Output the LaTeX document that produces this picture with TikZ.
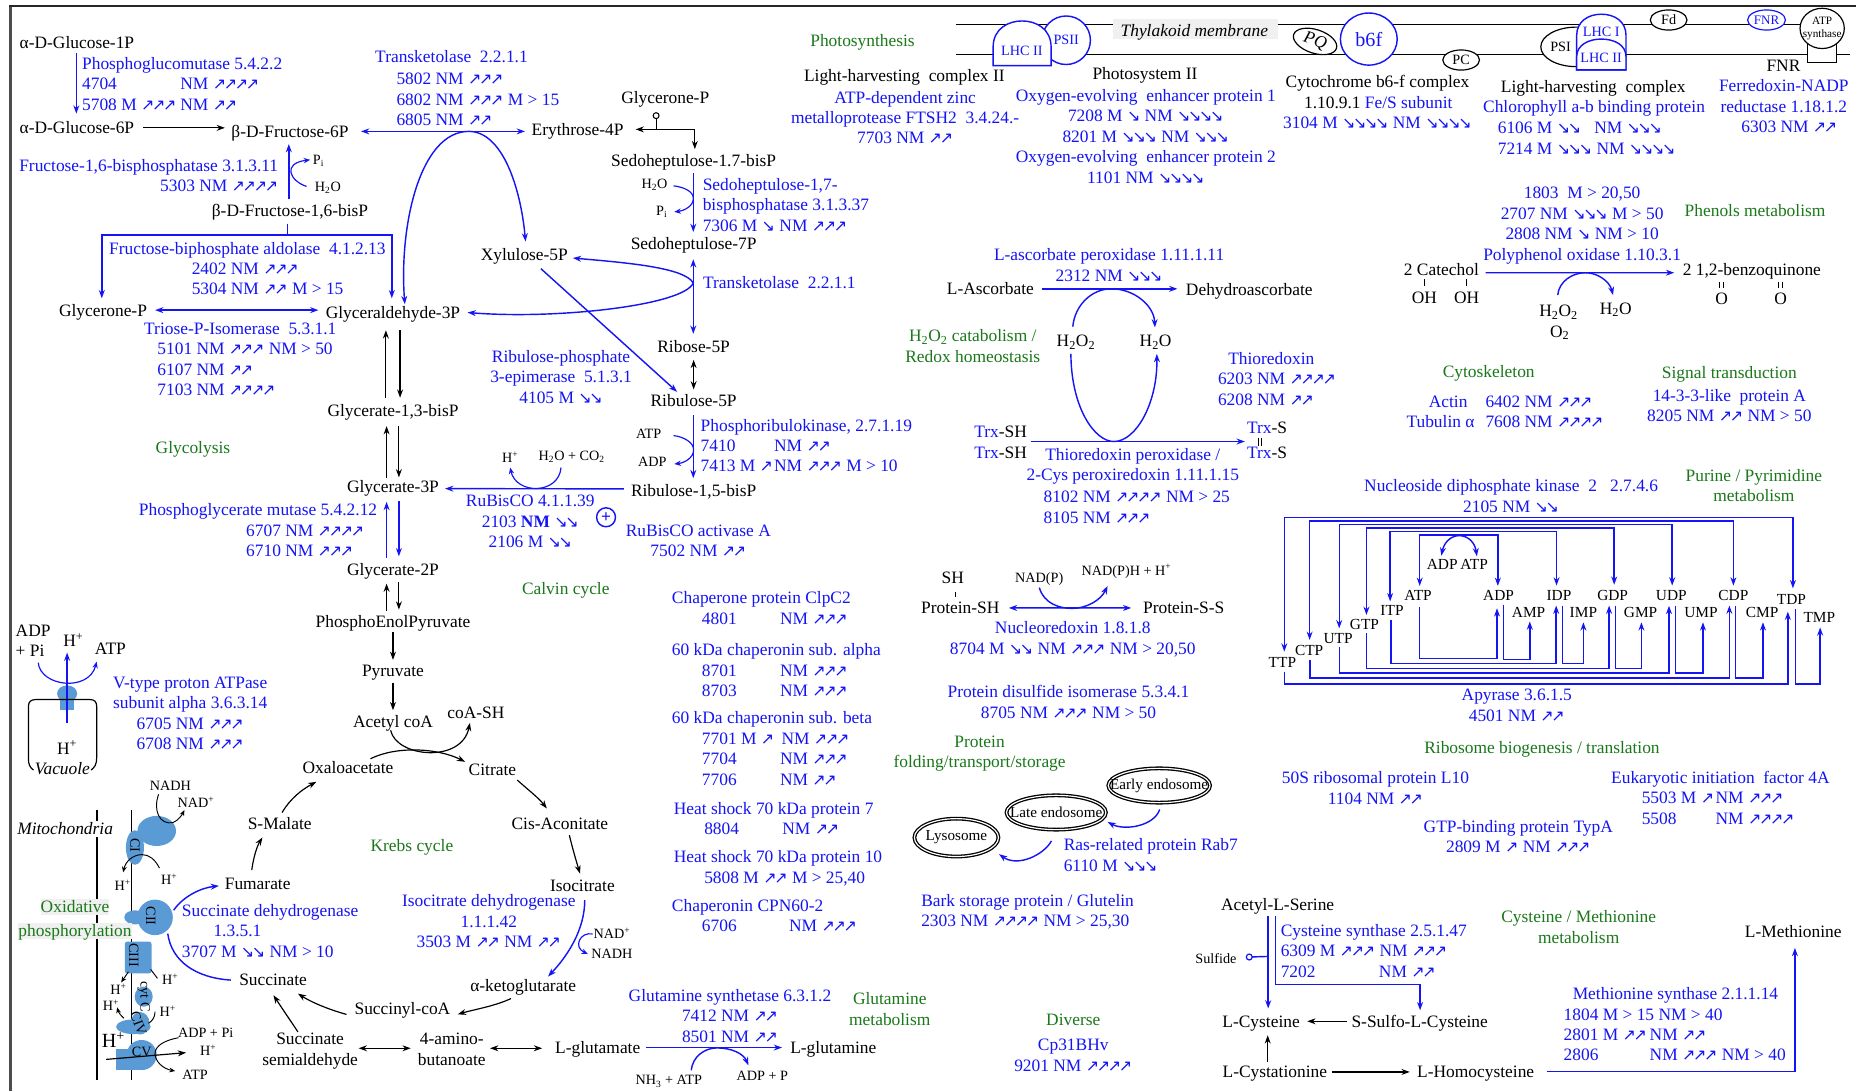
\documentclass[tikz,border=0pt]{standalone}
\usepackage{fontspec}
\setmainfont{Liberation Serif}
\newfontfamily\arrf{DejaVu Sans}
\usetikzlibrary{arrows.meta,calc,shapes.geometric}
\definecolor{bT}{RGB}{20,20,245}
\definecolor{gT}{RGB}{26,120,26}
\definecolor{cB}{RGB}{91,155,213}
\newcommand\mfz{\fontsize{14.7pt}{17.3pt}\selectfont}
\newcommand\smz{\fontsize{12pt}{14pt}\selectfont}
\newcommand\upA{{\arrf\fontsize{13.5pt}{13.5pt}\selectfont\char"2197}}
\newcommand\upB{\upA\kern-2pt\upA}
\newcommand\upC{\upB\kern-2pt\upA}
\newcommand\upD{\upC\kern-2pt\upA}
\newcommand\dnA{{\arrf\fontsize{13.5pt}{13.5pt}\selectfont\char"2198}}
\newcommand\dnB{\dnA\kern-2pt\dnA}
\newcommand\dnC{\dnB\kern-2pt\dnA}
\newcommand\dnD{\dnC\kern-2pt\dnA}
\newcommand\Hp{H\textsuperscript{+}}
\newcommand\Hwo{H\textsubscript{2}O}
\newcommand\Trx{\textcolor{bT}{Trx}}
\tikzset{
 every node/.style={inner sep=0pt,outer sep=0pt,font=\mfz},
 one/.style={text height=11.5pt,text depth=2pt},
 kn/.style={one,text=black},
 bn/.style={one,text=bT},
 gn/.style={one,text=gT},
 sn/.style={text height=10.5pt,text depth=2.5pt,text=black,font=\smz},
 bm/.style={text=bT,align=center},
 gm/.style={text=gT,align=center},
 km/.style={text=black,align=center},
 bw/.style={text=bT,align=left,anchor=west},
 ka/.style={draw=black,line width=1pt,-{Stealth[length=7pt,width=5pt]}},
 ba/.style={draw=bT,line width=1.2pt,-{Stealth[length=7pt,width=5pt]}},
 kd/.style={draw=black,line width=1pt,{Stealth[length=7pt,width=5pt]}-{Stealth[length=7pt,width=5pt]}},
 bd/.style={draw=bT,line width=1.2pt,{Stealth[length=7pt,width=5pt]}-{Stealth[length=7pt,width=5pt]}},
 kl/.style={draw=black,line width=1pt},
 bl/.style={draw=bT,line width=1.2pt},
 ksm/.style={draw=black,line width=.8pt,-{Stealth[length=5pt,width=4pt]}},
 bsm/.style={draw=bT,line width=1pt,-{Stealth[length=5.5pt,width=4.5pt]}},
 endo/.style={shape=ellipse,draw=black,double,double distance=1pt,line width=1.1pt},
 endt/.style={text=black,font=\fontsize{12.8pt}{14pt}\selectfont},
 blob/.style={text=black,font=\smz},
}
\begin{document}
\begin{tikzpicture}[x=1pt,y=-1pt]
\useasboundingbox (0,0) rectangle (1568,921.7);
\fill[white] (0,0) rectangle (1568,921.7);
\fill[black!70] (7.3,4) rectangle (10,921.7);
\fill[black!85] (7.3,4) rectangle (1568,5.8);

% ---------- glycolysis ----------
\node[kn] (glca) at (65,36) {α-D-Glucose-1P};
\node[kn] (glcb) at (65,108) {α-D-Glucose-6P};
\node[kn] (frua) at (245,111) {β-D-Fructose-6P};
\node[kn] (frub) at (245,178) {β-D-Fructose-1,6-bisP};
\node[kn] (gly) at (87,262.5) {Glycerone-P};
\node[kn] (gap) at (332,264) {Glyceraldehyde-3P};
\node[kn] (ery) at (488,110) {Erythrose-4P};
\node[kn] (xyl) at (443,215) {Xylulose-5P};
\node[kn] (gcp) at (562,82.5) {Glycerone-P};
\node[kn] (sbp) at (586,136) {Sedoheptulose-1.7-bisP};
\node[kn] (s7p) at (586,206) {Sedoheptulose-7P};
\node[kn] (r5p) at (586,293) {Ribose-5P};
\node[kn] (ru5) at (586,339) {Ribulose-5P};
\node[kn] (rbp) at (586,415) {Ribulose-1,5-bisP};
\node[kn] (g13) at (332,347) {Glycerate-1,3-bisP};
\node[kn] (g3p) at (332,411.3) {Glycerate-3P};
\node[kn] (g2p) at (332,481.8) {Glycerate-2P};
\node[kn] (pep) at (332,525) {PhosphoEnolPyruvate};
\node[kn] (pyr) at (332,567) {Pyruvate};
\node[kn] (aco) at (332,610) {Acetyl coA};
\node[kn] (coa) at (402,602) {coA-SH};

\node[bw] (pgm) at (69.4,71) {Phosphoglucomutase 5.4.2.2\\\makebox[83pt][l]{4704}NM \upD\\\makebox[83pt][l]{5708 M \upC}NM \upB};
\node[bn,anchor=west] (tkt) at (317,48) {Transketolase\ \ 2.2.1.1};
\node[bw] (tktb) at (335,84) {5802 NM \upC\\6802 NM \upC\ M > 15\\6805 NM \upB};
\node[bm,anchor=east,align=right] (fbp) at (235,148.5) {Fructose-1,6-bisphosphatase 3.1.3.11\\5303 NM \upD};
\node[bn] (ald) at (209,210) {Fructose-biphosphate aldolase\ \ 4.1.2.13};
\node[bw] (aldb) at (162,235.5) {2402 NM \upC\\5304 NM \upB\ M > 15};
\node[bn] (tim) at (203,278) {Triose-P-Isomerase\ \ 5.3.1.1};
\node[bw] (timb) at (133,312.3) {5101 NM \upC\ NM > 50\\6107 NM \upB\\7103 NM \upD};
\node[bm] (rpe) at (474,318.5) {Ribulose-phosphate\\3-epimerase\ \ 5.1.3.1\\4105 M \dnB};
\node[bn,anchor=west] (tkr) at (594,239) {Transketolase\ \ 2.2.1.1};
\node[bw] (sbpase) at (593.7,173.2) {Sedoheptulose-1,7-\\bisphosphatase 3.1.3.37\\7306 M \dnA\ NM \upC};
\node[bw] (prk) at (592,376.4) {Phosphoribulokinase, 2.7.1.19\\\makebox[62pt][l]{7410}NM \upB\\\makebox[62pt][l]{7413 M \upA}NM \upC\ M > 10};
\node[bm] (rub) at (448,440.5) {RuBisCO 4.1.1.39\\2103 \textbf{NM} \dnB\\2106 M \dnB};
\node[bm] (rca) at (590,456.7) {RuBisCO activase A\\7502 NM \upB};
\node[bn] (pgam) at (218,431) {Phosphoglycerate mutase 5.4.2.12};
\node[bw] (pgamb) at (208,456.7) {6707 NM \upD\\6710 NM \upC};
\node[gn] (glycolysis) at (163,378.6) {Glycolysis};
\node[gn] (calvin) at (478,497.5) {Calvin cycle};
\node[draw=bT,line width=1.2pt,circle,minimum size=16pt,text=bT,font=\bfseries\mfz] (plus) at (512,437) {+};

\node[sn] (pi1) at (269,135) {P\textsubscript{i}};
\node[sn] (wa1) at (277,158) {\Hwo};
\node[sn] (wa2) at (553,155) {\Hwo};
\node[sn] (pi2) at (559,178) {P\textsubscript{i}};
\node[sn] (atp1) at (548,366.5) {ATP};
\node[sn] (adp1) at (551,390.5) {ADP};
\node[sn] (hp1) at (431,387) {\Hp};
\node[sn] (co2) at (483,385) {\Hwo\ + CO\textsubscript{2}};

\draw[ba] ($(glca)+(-.5,9)$) -- ($(glcb)+(-.5,-12)$);
\draw[ka] ($(glcb)+(56,0)$) -- ($(frua)+(-55,-3)$);
\draw[bd] ($(frua)+(60,0)$) -- ($(ery)+(-44.5,1)$);
\coordinate (tk) at (396,111);
\draw[ba] (tk) .. controls (355,111) and (337,190) .. ($(gap)+(10,-7)$);
\draw[ba] (tk) .. controls (425,111) and (440,160) .. ($(xyl)+(1,-11)$);
\draw[ba] ($(frub)+(-1,-9.5)$) -- ($(frua)+(-1,10.7)$);
\draw[bsm] ($(wa1)+(-18,-.5)$) .. controls (245,153) and (238,138) .. ($(pi1)+(-7,0)$);
\draw[ba] ($(frub)+(-2,11)$) -- (243,198.6) -- (86,198.6) -- ($(gly)+(-1,-10.5)$);
\draw[ba] (243,198.6) -- (331,198.6) -- ($(gap)+(-1,-12)$);
\draw[bd] ($(gly)+(44,-.5)$) -- ($(gap)+(-63,-2)$);
\draw[ka] ($(g13)+(-6,-11)$) -- ($(gap)+(-6,15)$);
\draw[ka] ($(gap)+(6,15)$) -- ($(g13)+(6,-11)$);
\draw[ka] ($(g3p)+(-5.4,-7.3)$) -- ($(g13)+(-5.4,13)$);
\draw[ka] ($(g13)+(5,13)$) -- ($(g3p)+(5,-8)$);
\draw[ba] ($(g2p)+(-5.4,-10.8)$) -- ($(g3p)+(-5.4,12.7)$);
\draw[ba] ($(g3p)+(5,12.2)$) -- ($(g2p)+(5,-11.8)$);
\draw[ka] ($(pep)+(-5.4,-9)$) -- ($(g2p)+(-5.4,11.2)$);
\draw[ka] ($(g2p)+(5,10.2)$) -- ($(pep)+(5,-10)$);
\draw[ka] ($(pep)+(0,9)$) -- ($(pyr)+(0,-9.5)$);
\draw[ka] ($(pyr)+(0,9.7)$) -- ($(aco)+(0,-10)$);

\node[draw=black,fill=white,line width=.9pt,circle,minimum size=5pt] (gcc) at (554.3,97.7) {};
\coordinate (gcj) at (554.3,109.3);
\draw[kl] (gcc) -- (gcj);
\draw[ka] (gcj) -- ($(ery)+(49,-.7)$);
\draw[ka] (gcj) -- (587,109.3) -- ($(sbp)+(1,-10)$);
\draw[ba] ($(sbp)+(-.3,10.5)$) -- ($(s7p)+(-.3,-10)$);
\draw[bsm] ($(wa2)+(16,2)$) .. controls (578,158) and (586,162) .. (585.7,167.6) .. controls (586,174) and (578,178) .. ($(pi2)+(10.7,1)$);
\draw[bd] ($(s7p)+(-.3,13)$) -- ($(r5p)+(-.3,-11)$);
\coordinate (tk2) at (585.7,239);
\draw[ba] (tk2) .. controls (578,226) and (530,222) .. ($(xyl)+(41,3)$);
\draw[ba] (tk2) .. controls (578,258) and (470,270) .. ($(gap)+(63,0)$);
\draw[kd] ($(r5p)+(0,11)$) -- ($(ru5)+(0,-10)$);
\draw[ba] ($(xyl)+(14,12)$) -- ($(ru5)+(-14,-8)$);
\draw[ba] ($(ru5)+(-.3,12)$) -- ($(rbp)+(-.3,-11)$);
\draw[bsm] ($(atp1)+(21,1.5)$) .. controls (578,369) and (586,374) .. (586,380) .. controls (586,387) and (578,391) .. ($(adp1)+(18.7,1.5)$);
\draw[ba] ($(rbp)+(-59,-2)$) -- ($(g3p)+(44,1.5)$);
\draw[bsm] ($(co2)+(-9,10)$) .. controls (472,418) and (436,418) .. ($(hp1)+(0,8)$);

% ---------- vacuole ----------
\node[km,anchor=west,align=left] (adpv) at (13.3,541.5) {ADP\\+ Pi};
\node[kn] (hpv) at (62,541.5) {\Hp};
\node[kn] (atpv) at (93.3,548.5) {ATP};
\fill[cB] (56.7,586) ellipse [x radius=8.5,y radius=7];
\fill[cB] (50.7,586) rectangle (62.7,600);
\draw[ba] (56.7,611) -- ($(hpv)+(-5.3,9.8)$);
\draw[bsm] (32.3,559.8) .. controls (34,580) and (75,585) .. ($(atpv)+(-11.6,10.5)$);
\draw[kl] (28.3,650.6) .. controls (25,648) and (24,646) .. (24,640) -- (24,597) .. controls (24,593) and (26,591) .. (30,591) -- (76,591) .. controls (80,591) and (81.7,593) .. (81.7,597) -- (81.7,640) .. controls (81.7,646) and (80,648) .. (77,650.6);
\node[kn] (hpw) at (56.7,632.3) {\Hp};
\node[kn,font=\itshape\mfz] (vac) at (52.7,649.8) {Vacuole};
\node[bm] (vty) at (160.7,602.8) {V-type proton ATPase\\subunit alpha 3.6.3.14\\6705 NM \upC\\6708 NM \upC};

% ---------- Krebs ----------
\node[kn] (oaa) at (294,649) {Oxaloacetate};
\node[kn] (cit) at (416,650) {Citrate};
\node[kn] (cis) at (473,696) {Cis-Aconitate};
\node[kn] (ici) at (492,748) {Isocitrate};
\node[kn] (akg) at (442,833) {α-ketoglutarate};
\node[kn] (suc) at (340,852.6) {Succinyl-coA};
\node[kn] (sin) at (230.7,828) {Succinate};
\node[km] (ssa) at (262,888) {Succinate\\semialdehyde};
\node[km] (abu) at (381.7,886.5) {4-amino-\\butanoate};
\node[kn] (glu) at (505,885) {L-glutamate};
\node[kn] (gln) at (704,885) {L-glutamine};
\node[kn] (fum) at (217.7,746.4) {Fumarate};
\node[kn] (mal) at (236.3,695.7) {S-Malate};
\node[gn] (krebs) at (348,714.3) {Krebs cycle};
\node[bw] (sdh) at (153.7,786.4) {Succinate dehydrogenase\\\hspace*{26.7pt}1.3.5.1\\3707 M \dnB\ NM > 10};
\node[bm] (idh) at (413,778.5) {Isocitrate dehydrogenase\\1.1.1.42\\3503 M \upB\ NM \upB};
\node[sn] (nd1) at (517,789) {NAD\textsuperscript{+}};
\node[sn] (nd2) at (517,806) {NADH};
\node[bm] (gs) at (616.7,858) {Glutamine synthetase 6.3.1.2\\7412 NM \upB\\8501 NM \upB};
\node[gm] (glnm) at (751.7,852.3) {Glutamine\\metabolism};
\node[sn] (nh3) at (565,912.6) {NH\textsubscript{3} + ATP};
\node[sn] (adp2) at (644,909) {ADP + P};

\draw[ka] ($(aco)+(-2,7)$) .. controls (335,640) and (390,645) .. ($(coa)+(-5,8.7)$);
\draw[ka] ($(oaa)+(19,-8)$) .. controls (335,630) and (370,632) .. ($(cit)+(-23,-6.4)$);
\draw[ka] ($(cit)+(21,9)$) .. controls (447,668) and (455,674) .. ($(cis)+(-11,-13)$);
\draw[ka] ($(cis)+(8,9.6)$) .. controls (484,718) and (487,728) .. ($(ici)+(-2,-10)$);
\draw[ba] ($(ici)+(2,12.5)$) .. controls (494,785) and (480,807) .. ($(akg)+(21,-8)$);
\draw[bsm] ($(nd1)+(-16.3,0)$) .. controls (490,787) and (484,800) .. ($(nd2)+(-20.3,0)$);
\draw[ka] ($(akg)+(-10.3,10.6)$) .. controls (418,850) and (400,853) .. ($(suc)+(46.7,4.3)$);
\draw[ka] ($(suc)+(-47.3,4.4)$) .. controls (275,852) and (262,846) .. ($(sin)+(21,11.4)$);
\draw[ka] ($(ssa)+(-10.3,-16.2)$) -- ($(sin)+(.3,12.8)$);
\draw[kd] ($(ssa)+(41,-2.4)$) -- ($(abu)+(-34.7,-.9)$);
\draw[kd] ($(abu)+(32.3,-.9)$) -- ($(glu)+(-47,.6)$);
\draw[ba] ($(glu)+(41,0)$) -- ($(gln)+(-43.3,0)$);
\draw[ka] ($(fum)+(-5,-11.4)$) .. controls (214,725) and (217,715) .. ($(mal)+(-14.6,11.8)$);
\draw[ka] ($(mal)+(2,-9.3)$) .. controls (245,675) and (255,667) .. ($(oaa)+(-26.7,11.5)$);
\draw[bl] ($(sin)+(-35.7,0)$) .. controls (165,826) and (145,812) .. (141.7,788.7);
\draw[ba] (146.7,769) .. controls (155,757) and (170,750) .. ($(fum)+(-32.7,2)$);
\draw[ba] ($(nh3)+(19,-8.4)$) .. controls (585,893) and (595,885.3) .. (605.7,885.3) .. controls (618,885.3) and (628,890) .. ($(adp2)+(-11.7,-9)$);

% ---------- mitochondria ----------
\draw[kl] (82,684) -- (82,912.4);
\draw[kl] (111.3,684) -- (111.3,912.4);
\fill[cB] (132.4,702) ellipse [x radius=16.3,y radius=12.7];
\fill[cB] (114,716) ellipse [x radius=7.6,y radius=14.6];
\fill[cB] (131,775) circle [radius=15];
\fill[cB] (114,775) ellipse [x radius=9,y radius=6];
\fill[cB,rounded corners=2pt] (105.4,795.5) rectangle (128,822.3);
\fill[cB] (121.4,842) ellipse [x radius=7.6,y radius=8.5];
\fill[cB] (112.7,867.4) ellipse [x radius=14.6,y radius=6.2];
\fill[cB] (118.3,864.5) ellipse [x radius=8,y radius=9.5];
\fill[cB] (119.7,891.3) circle [radius=12.7];
\fill[cB] (97.8,886.5) rectangle (118.3,904);
\node[blob,rotate=-90] (c1) at (114,714) {CI};
\node[blob,rotate=-90] (c2) at (127.3,774) {CII};
\node[blob,rotate=-90] (c3) at (113,807) {CIII};
\node[blob,rotate=-90] (cyt) at (121.4,842) {cyt C};
\node[blob,rotate=-70] (c4) at (117,864.5) {CIV};
\node[blob] (c5) at (119.7,889) {CV};
\node[kn,fill=white,font=\itshape\mfz] (mito) at (55,700) {Mitochondria};
\node[gn,fill=gray!12] (oxa) at (63.4,766) {Oxidative};
\node[gn,fill=gray!12] (oxb) at (63.4,786.2) {phosphorylation};
\node[sn] (nadh) at (144,664) {NADH};
\node[sn] (nadp) at (165.6,678) {NAD\textsuperscript{+}};
\node[sn] (h1) at (103.7,748.5) {\Hp};
\node[sn] (h2) at (143,743.4) {\Hp};
\node[sn] (h3) at (100,836.4) {\Hp};
\node[sn] (h4) at (143.7,828) {\Hp};
\node[sn] (h5) at (93.8,850) {\Hp};
\node[sn] (h6) at (141.7,854.7) {\Hp};
\node[kn,font=\fontsize{17pt}{18pt}\selectfont] (h7) at (95.8,880.6) {\Hp};
\node[sn] (adpm) at (173.8,872.4) {ADP + Pi};
\node[sn] (h8) at (176,888) {\Hp};
\node[sn] (atpm) at (164.8,908) {ATP};
\draw[ksm] ($(nadh)+(-10,7)$) .. controls (129,685) and (135,697) .. (146,695) .. controls (151,693) and (154,688) .. ($(nadp)+(-9.8,6.3)$);
\draw[ksm] ($(h2)+(-8.3,-10)$) .. controls (131,726) and (126,722) .. (120,722) .. controls (112,722) and (106,728) .. ($(h1)+(.3,-11.5)$);
\draw[ksm] (108.5,821) -- ($(h3)+(2.3,-6.4)$);
\draw[kl,line width=.8pt] ($(h4)+(-10.7,-1.5)$) -- (127.3,819);
\draw[ksm] (104.8,860.3) .. controls (102,858) and (100,855) .. ($(h5)+(5.2,1)$);
\draw[kl,line width=.8pt] ($(h6)+(-10.7,0)$) .. controls (131,860) and (128,863) .. (125.4,864.5);
\draw[ka] (89.6,895) -- ($(h8)+(-18.8,1.3)$);
\draw[ksm] ($(adpm)+(-23,4.3)$) .. controls (138,879) and (131,884) .. (131,890) .. controls (131,897) and (138,903) .. ($(atpm)+(-16.8,-3.2)$);

% ---------- thylakoid ----------
\node[fill=gray!12,minimum width=138.7pt,minimum height=17pt] (thyb) at (1010,24.6) {};
\draw[kl] (807.3,21) -- (940.7,21);
\draw[kl] (1079.4,21) -- (1525,21);
\draw[kl] (807.3,46) -- (1563,46);
\node[kn,font=\itshape\mfz] (thy) at (1009,26) {Thylakoid membrane};
\node[gn] (phot) at (728.7,34.4) {Photosynthesis};
\node[draw=bT,fill=white,line width=1.2pt,circle,minimum size=41pt,text=bT,font=\smz] (psii) at (900.7,34) {PSII};
\draw[bl,fill=white] (839,55.5) -- (839,40) .. controls (839,24) and (852,17.7) .. (863.5,17.7) .. controls (875,17.7) and (888,24) .. (888,40) -- (888,55.5) -- cycle;
\node[text=bT,font=\smz] (lhcii) at (863.3,42.8) {LHC II};
\node[draw=black,fill=white,line width=1pt,ellipse,minimum width=38pt,minimum height=20pt,rotate=-18,font=\itshape\mfz] (pq) at (1111,35) {PQ};
\node[draw=bT,fill=white,line width=1.2pt,ellipse,minimum width=48pt,minimum height=44pt,text=bT,font=\fontsize{17pt}{18pt}\selectfont] (b6f) at (1156.4,33) {b6f};
\node[draw=black,fill=white,line width=1pt,ellipse,minimum width=31pt,minimum height=17pt,font=\smz] (pc) at (1234.4,50.7) {PC};
\node[draw=black,fill=white,line width=1pt,ellipse,minimum width=60pt,minimum height=33.4pt] (psib) at (1331.7,39.6) {};
\node[font=\smz] (psi) at (1318.4,39.4) {PSI};
\draw[bl,fill=white] (1332,59) -- (1332,30) .. controls (1332,18) and (1342,12) .. (1352.8,12) .. controls (1364,12) and (1373.7,18) .. (1373.7,30) -- (1373.7,59) -- cycle;
\draw[bl,fill=white] (1332,59) -- (1332,48) .. controls (1332,38) and (1342,33) .. (1352.8,33) .. controls (1364,33) and (1373.7,38) .. (1373.7,48) -- (1373.7,59) -- cycle;
\node[text=bT,font=\smz] (lhc1) at (1352.7,26.8) {LHC I};
\node[text=bT,font=\smz] (lhc2) at (1352.7,48.5) {LHC II};
\node[draw=black,fill=white,line width=1pt,ellipse,minimum width=31pt,minimum height=17pt,font=\smz] (fd) at (1409.7,16.9) {Fd};
\node[draw=bT,fill=white,line width=1pt,ellipse,minimum width=32pt,minimum height=17pt,text=bT,font=\fontsize{11pt}{12pt}\selectfont] (fnr) at (1492.4,16.9) {FNR};
\draw[kl,fill=white] (1527,36) rectangle (1551.7,53);
\node[draw=black,fill=white,line width=1pt,ellipse,minimum width=37.4pt,minimum height=34pt] (atpe) at (1539.4,24) {};
\node[align=center,font=\fontsize{9.5pt}{11pt}\selectfont] (atps) at (1539.4,24) {ATP\\synthase};

\node[kn] (fnrk) at (1506.7,55.5) {FNR};
\node[kn] (lh2) at (764,64.2) {Light-harvesting\ \ complex II};
\node[bm] (fts) at (764.7,99.3) {ATP-dependent zinc\\metalloprotease FTSH2\ \ 3.4.24.-\\7703 NM \upB};
\node[kn] (ps2t) at (967.3,62.5) {Photosystem II};
\node[bm] (oee) at (968,115) {Oxygen-evolving\ \ enhancer protein 1\\7208 M \dnA\ NM \dnD\\8201 M \dnC\ NM \dnC\\Oxygen-evolving\ \ enhancer protein 2\\1101 NM \dnD};
\node[kn] (cytb) at (1163.7,69.3) {Cytochrome b6-f complex};
\node[kn,anchor=west] (cytn) at (1101.7,86.5) {1.10.9.1 \textcolor{bT}{Fe/S subunit}};
\node[bn] (cyto) at (1163.7,104) {3104 M \dnD\ NM \dnD};
\node[kn] (lhct) at (1346,73.2) {Light-harvesting\ \ complex};
\node[bn] (chl) at (1346.7,90.7) {Chlorophyll a-b binding protein};
\node[bw] (chlb) at (1265.4,116.6) {6106 M \dnB\ \ \ NM \dnC\\7214 M \dnC\ NM \dnD};
\node[bm] (fer) at (1507,81.3) {Ferredoxin-NADP\\reductase 1.18.1.2};
\node[bn] (ferb) at (1511.7,107.3) {6303 NM \upB};

% ---------- polyphenol ----------
\node[bm] (ppo) at (1336.6,190.5) {1803\ \ M > 20,50\\2707 NM \dnC\ M > 50\\2808 NM \dnA\ NM > 10\\Polyphenol oxidase 1.10.3.1};
\node[gn] (phm) at (1482.7,177.8) {Phenols metabolism};
\node[kn] (cat) at (1217.7,227.6) {2 Catechol};
\node[kn] (oh1) at (1203.4,251.3) {OH};
\node[kn] (oh2) at (1239,251.3) {OH};
\node[kn] (bq) at (1480,228.2) {2 1,2-benzoquinone};
\node[kn] (o1) at (1454.4,252.7) {O};
\node[kn] (o2) at (1504.4,252.7) {O};
\node[kn] (h2o2b) at (1316.7,262.8) {H\textsubscript{2}O\textsubscript{2}};
\node[kn] (h2ob) at (1365,260.6) {\Hwo};
\node[kn] (o2b) at (1317.7,280.3) {O\textsubscript{2}};
\draw[ba] ($(cat)+(37.3,2.8)$) -- ($(bq)+(-65.6,2.2)$);
\draw[ba] ($(h2o2b)+(-.7,-13.5)$) .. controls (1317,238) and (1328,230.4) .. (1339.4,230.4) .. controls (1350,230.4) and (1360,238) .. ($(h2ob)+(-2.3,-11.3)$);
\draw[kl] ($(oh1)+(0,-15.3)$) -- ($(oh1)+(0,-9.6)$);
\draw[kl] ($(oh2)+(0,-15.3)$) -- ($(oh2)+(0,-9.6)$);
\draw[kl,line width=.8pt] ($(o1)+(-1.6,-14.7)$) -- ($(o1)+(-1.6,-9)$);
\draw[kl,line width=.8pt] ($(o1)+(1.6,-14.7)$) -- ($(o1)+(1.6,-9)$);
\draw[kl,line width=.8pt] ($(o2)+(-1.6,-14.7)$) -- ($(o2)+(-1.6,-9)$);
\draw[kl,line width=.8pt] ($(o2)+(1.6,-14.7)$) -- ($(o2)+(1.6,-9)$);

% ---------- ascorbate / thioredoxin ----------
\node[bm] (apx) at (937,224) {L-ascorbate peroxidase 1.11.1.11\\2312 NM \dnC};
\node[kn] (asc) at (836.7,244) {L-Ascorbate};
\node[kn] (dha) at (1055.4,244.6) {Dehydroascorbate};
\node[kn] (h22) at (909,288) {H\textsubscript{2}O\textsubscript{2}};
\node[kn] (h2o) at (976.3,288) {\Hwo};
\node[gm] (h2c) at (821.8,292.5) {H\textsubscript{2}O\textsubscript{2} catabolism /\\Redox homeostasis};
\node[kn] (trx1) at (845.3,365) {\Trx-SH};
\node[kn] (trx2) at (845.3,382.3) {\Trx-SH};
\node[kn] (trs1) at (1070.4,361.5) {\Trx-S};
\node[kn] (trs2) at (1070.4,382.9) {\Trx-S};
\node[bm] (tpx) at (957,393.8) {Thioredoxin peroxidase /\\2-Cys peroxiredoxin 1.11.1.15};
\node[bw] (tpxb) at (881.7,428.5) {8102 NM \upD\ NM > 25\\8105 NM \upC};
\node[bn] (trd) at (1074,303) {Thioredoxin};
\node[bw] (trdb) at (1029,329) {6203 NM \upD\\6208 NM \upB};
\draw[ba] ($(asc)+(43.3,0)$) -- ($(dha)+(-60.7,-.6)$);
\draw[ba] ($(h22)+(-2.7,-12)$) .. controls (908,258) and (922,244) .. (939,244) .. controls (958,244) and (975,258) .. ($(h2o)+(-.6,-11.4)$);
\draw[ba] ($(h22)+(-4.3,11)$) .. controls (905,345) and (925,373) .. (941,373) .. controls (960,373) and (978,340) .. ($(h2o)+(1,11)$);
\draw[ba] ($(trx1)+(25.4,8)$) -- ($(trs1)+(-18.7,11.5)$);
\draw[kl,line width=.7pt] ($(trs1)+(-7.5,8.5)$) -- ($(trs2)+(-7.5,-6.2)$);
\draw[kl,line width=.7pt] ($(trs1)+(-4.7,8.5)$) -- ($(trs2)+(-4.7,-6.2)$);

% ---------- cytoskeleton / signal ----------
\node[gn] (cyk) at (1257.7,314) {Cytoskeleton};
\node[bn] (act) at (1223.4,339.5) {Actin};
\node[bn] (tub) at (1217,356.7) {Tubulin α};
\node[bw] (actb) at (1255,348) {6402 NM \upC\\7608 NM \upD};
\node[gn] (sig) at (1461,314.7) {Signal transduction};
\node[bm] (ptt) at (1461,342.5) {14-3-3-like\ \ protein A\\8205 NM \upB\ NM > 50};

% ---------- nucleotides ----------
\node[gm] (pur) at (1481.7,410) {Purine / Pyrimidine\\metabolism};
\node[bm] (ndk) at (1276.6,419.2) {Nucleoside diphosphate kinase\ \ 2\ \ \ 2.7.4.6\\2105 NM \dnB};
\node[bm] (apy) at (1281.4,596) {Apyrase 3.6.1.5\\4501 NM \upB};
\foreach \nm/\xx/\yy in {TTP/1083.4/559.8,CTP/1106/549.6,UTP/1130.4/539.5,GTP/1152.7/528,ITP/1176/516,ATP/1198/503.4,ADP/1266/503.4,IDP/1317/503.4,GDP/1362.4/503.4,UDP/1412/503.4,CDP/1464.4/503.4,TDP/1513.4/506.3,AMP/1291.4/518,IMP/1337.7/518,GMP/1386/518,UMP/1437/518,CMP/1488.7/518,TMP/1537/521.8}
  {\node[sn,font=\fontsize{13pt}{14pt}\selectfont] (\nm) at (\xx,\yy) {\nm};}
\node[sn,font=\fontsize{13pt}{14pt}\selectfont] (ADPs) at (1218.4,477.5) {ADP};
\node[sn,font=\fontsize{13pt}{14pt}\selectfont] (ATPs) at (1245.4,477.5) {ATP};
\draw[bd] ($(ADPs)+(-.7,-8)$) .. controls (1220,458) and (1226,452.5) .. (1232.7,452.5) .. controls (1240,452.5) and (1246,458) .. ($(ATPs)+(2.3,-7.5)$);
\draw[bd] ($(TTP)+(1.6,-9.3)$) -- (1085,437) -- (1514.7,437) -- ($(TDP)+(1.3,-9.3)$);
\draw[bd] ($(CTP)+(.4,-9)$) -- (1106.4,440) -- (1464.4,440) -- ($(CDP)+(0,-8.7)$);
\draw[bd] ($(UTP)+(1,-8.7)$) -- (1131.4,442.9) -- (1412.7,442.9) -- ($(UDP)+(.7,-8.7)$);
\draw[bd] ($(GTP)+(1.7,-8.5)$) -- (1154.4,446) -- (1363.7,446) -- ($(GDP)+(1.3,-9.4)$);
\draw[bd] ($(ITP)+(-1.6,-8)$) -- (1174.4,448.8) -- (1315,448.8) -- ($(IDP)+(-2,-8.7)$);
\draw[bd] ($(ATP)+(1.4,-8.4)$) -- (1199.4,451.9) -- (1265.4,451.9) -- ($(ADP)+(-.6,-8.4)$);
\draw[ba] ($(ATP)+(1.4,9.6)$) -- (1199.4,556.4) -- (1264.7,556.4) -- ($(ADP)+(-1.3,10.5)$);
\draw[ba] ($(ADP)+(4,7.6)$) -- (1270,557) -- (1292.4,557) -- ($(AMP)+(1,7)$);
\draw[ba] ($(ITP)+(-1,7.7)$) -- (1175,560.3) -- (1314.7,560.3) -- ($(IDP)+(-2.3,8.2)$);
\draw[ba] ($(IDP)+(3,8.2)$) -- (1320,560.3) -- (1337.7,560.3) -- ($(IMP)+(0,7.7)$);
\draw[ba] ($(GTP)+(1.7,7)$) -- (1154.4,564.6) -- (1359.4,564.6) -- ($(GDP)+(-3,8.2)$);
\draw[ba] ($(GDP)+(2.3,8.2)$) -- (1364.7,564.6) -- (1386.7,564.6) -- ($(GMP)+(.7,7.7)$);
\draw[ba] ($(UTP)+(1,7.3)$) -- (1131.4,568.5) -- (1410,568.5) -- ($(UDP)+(-2,8.4)$);
\draw[ba] ($(UDP)+(3.4,8.4)$) -- (1415.4,568.5) -- (1438.7,568.5) -- ($(UMP)+(1.7,7.7)$);
\draw[ba] ($(CTP)+(.7,7.9)$) -- (1106.7,572.7) -- (1461,572.7) -- ($(CDP)+(-3.4,8.2)$);
\draw[ba] ($(CDP)+(2,8.2)$) -- (1466.4,572.7) -- (1489.4,572.7) -- ($(CMP)+(.7,7.7)$);
\draw[ba] ($(TTP)+(1.6,7.6)$) -- (1085,577.8) -- (1510.4,577.8) -- ($(TDP)+(-3,10.4)$);
\draw[ba] ($(TDP)+(3.3,8.4)$) -- (1516.7,577.8) -- (1537.7,577.8) -- ($(TMP)+(.7,8.2)$);

% ---------- chaperones ----------
\node[bn,anchor=west] (clp) at (567.7,505.4) {Chaperone protein ClpC2};
\node[bn,anchor=west] (n4801) at (593,522.9) {\makebox[66pt][l]{4801}NM \upC};
\node[bn,anchor=west] (cha) at (567.7,549.4) {60 kDa chaperonin sub. alpha};
\node[bn,anchor=west] (n8701) at (593,566.5) {\makebox[66pt][l]{8701}NM \upC};
\node[bn,anchor=west] (n8703) at (593,584) {\makebox[66pt][l]{8703}NM \upC};
\node[bn,anchor=west] (chb) at (567.7,606.8) {60 kDa chaperonin sub. beta};
\node[bn,anchor=west] (n7701) at (593,623.9) {\makebox[67.3pt][l]{7701 M \upA}NM \upC};
\node[bn,anchor=west] (n7704) at (593,641.4) {\makebox[66pt][l]{7704}NM \upC};
\node[bn,anchor=west] (n7706) at (593,658.5) {\makebox[66pt][l]{7706}NM \upB};
\node[bn,anchor=west] (hs7) at (569.3,683) {Heat shock 70 kDa protein 7};
\node[bn,anchor=west] (n8804) at (595,700.5) {\makebox[66pt][l]{8804}NM \upB};
\node[bn,anchor=west] (hs10) at (569.3,724.2) {Heat shock 70 kDa protein 10};
\node[bn,anchor=west] (n5808) at (595,741.4) {5808 M \upB\ M > 25,40};
\node[bn,anchor=west] (cpn) at (567.7,765) {Chaperonin CPN60-2};
\node[bn,anchor=west] (n6706) at (593,782.5) {\makebox[73.7pt][l]{6706}NM \upC};

% ---------- nucleoredoxin ----------
\node[kn] (shn) at (805,488.5) {SH};
\node[kn] (psh) at (811.3,513.6) {Protein-SH};
\node[kn] (pss) at (1000,513.9) {Protein-S-S};
\node[sn] (npa) at (878,487.7) {NAD(P)};
\node[sn] (npb) at (951.7,481.8) {NAD(P)H + H\textsuperscript{+}};
\node[bm] (nrx) at (906.3,540.2) {Nucleoredoxin 1.8.1.8\\8704 M \dnB\ NM \upC\ NM > 20,50};
\node[bm] (pdi) at (902.7,593.2) {Protein disulfide isomerase 5.3.4.1\\8705 NM \upC\ NM > 50};
\draw[kl,line width=.7pt] ($(shn)+(2.3,11.5)$) -- ($(psh)+(-4,-9)$);
\draw[bd] ($(psh)+(41,0)$) -- ($(pss)+(-44.3,-.3)$);
\draw[ba] ($(npa)+(0,8.7)$) .. controls (882,510) and (895,514) .. (905.7,514) .. controls (918,514) and (930,507) .. ($(npb)+(-16,13.2)$);

% ---------- endosomes ----------
\node[gm] (pfts) at (827.6,636.7) {Protein\\folding/transport/storage};
\node[endo,minimum width=86pt,minimum height=29pt] (eE) at (979.3,663.6) {};
\node[endt] (tE) at (979.3,663.6) {Early endosome};
\node[endo,minimum width=84pt,minimum height=29pt] (eL) at (892.3,686.4) {};
\node[endt] (tL) at (892.3,686.4) {Late endosome};
\node[endo,minimum width=71pt,minimum height=32pt] (eY) at (808,707.6) {};
\node[endt] (tY) at (808,707.6) {Lysosome};
\draw[ba] ($(eE)+(.4,20.3)$) .. controls (975,698) and (950,702) .. ($(eL)+(43.4,8)$);
\draw[ba] ($(eL)+(-4,24)$) .. controls (882,722) and (860,733) .. ($(eY)+(36,14)$);
\node[bw] (rab) at (898.7,722.2) {Ras-related protein Rab7\\6110 M \dnC};
\node[bw] (bsp) at (778.3,770.3) {Bark storage protein / Glutelin\\2303 NM \upD\ NM > 25,30};
\node[gn] (div) at (906.7,862) {Diverse};
\node[bm] (cp3) at (906.7,891.5) {Cp31BHv\\9201 NM \upD};

% ---------- ribosome ----------
\node[gn] (ribo) at (1302.7,631.5) {Ribosome biogenesis / translation};
\node[bm] (l10) at (1162,665.7) {50S ribosomal protein L10\\1104 NM \upB};
\node[bn] (eif) at (1453.4,656.9) {Eukaryotic initiation\ \ factor 4A};
\node[bw] (eifb) at (1387,683) {\makebox[62.4pt][l]{5503 M \upA}NM \upC\\\makebox[62.4pt][l]{5508}NM \upD};
\node[bm] (typ) at (1282.7,706.8) {GTP-binding protein TypA\\2809 M \upA\ NM \upC};

% ---------- cysteine / methionine ----------
\node[kn] (acs) at (1079.4,764.5) {Acetyl-L-Serine};
\node[kn] (lcy) at (1065.4,863.3) {L-Cysteine};
\node[kn] (ssc) at (1199.4,863.3) {S-Sulfo-L-Cysteine};
\node[kn] (lct) at (1077,905.6) {L-Cystationine};
\node[kn] (lho) at (1246.7,905.6) {L-Homocysteine};
\node[kn] (lme) at (1515,787) {L-Methionine};
\node[sn] (sul) at (1027.3,809.8) {Sulfide};
\node[bw] (cys) at (1082,803.3) {Cysteine synthase 2.5.1.47\\6309 M \upC\ NM \upC\\\makebox[83pt][l]{7202}NM \upB};
\node[gm] (cym) at (1333.7,783) {Cysteine / Methionine\\metabolism};
\node[bn,anchor=west] (ms) at (1328.7,839.7) {Methionine synthase 2.1.1.14};
\node[bw] (msb) at (1321,874.2) {1804 M > 15 NM > 40\\\makebox[72.7pt][l]{2801 M \upB}NM \upB\\\makebox[72.7pt][l]{2806}NM \upC\ NM > 40};
\node[draw=bT,line width=1pt,fill=white,circle,minimum size=5pt] (sc) at (1055.4,808.5) {};
\coordinate (sj) at (1071.4,808);
\draw[bl] (sc) -- (sj);
\draw[ba] ($(acs)+(-8,9.5)$) -- ($(lcy)+(6,-11.3)$);
\draw[ba] ($(acs)+(-2,9.5)$) -- (1077.4,831.8) -- (1199.7,831.8) -- ($(ssc)+(.3,-9.8)$);
\draw[ka] ($(ssc)+(-61.7,-.5)$) -- ($(lcy)+(39,-.5)$);
\draw[ka] ($(lct)+(-6,-8.4)$) -- ($(lcy)+(5.6,11.3)$);
\draw[ka] ($(lct)+(48,0)$) -- ($(lho)+(-55.7,0)$);
\draw[ba] ($(lho)+(60,-.6)$) -- (1516.4,905) -- ($(lme)+(1.4,13.8)$);
\end{tikzpicture}
\end{document}
